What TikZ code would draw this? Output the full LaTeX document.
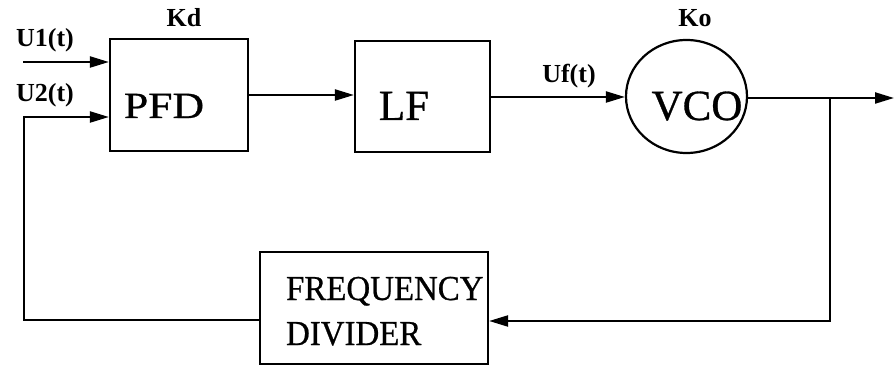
\documentclass[tikz,border=0pt]{standalone}
\usepackage{fontspec}
\usepackage{graphicx}
\setmainfont{Liberation Serif}
\newfontfamily\heavyserif{Liberation Serif}[FakeBold=0.7]
\usetikzlibrary{arrows.meta,shapes.geometric}
\begin{document}
\begin{tikzpicture}[x=1pt,y=-1pt,
  line width=2.2pt,
  blk/.style={draw,line width=2.2pt,inner sep=0pt},
  lbl/.style={inner sep=0pt,anchor=base,font=\fontsize{26}{30}\selectfont\bfseries},
  big/.style={inner sep=0pt,anchor=base,font=\fontsize{43}{48}\selectfont\heavyserif},
  fdtxt/.style={inner sep=0pt,anchor=base west,font=\fontsize{35}{40}\selectfont\heavyserif},
  arr/.style={-{Triangle[length=19pt,width=11pt]}}]
\useasboundingbox (0,0) rectangle (894,366);
% blocks
\node[blk,minimum width=138pt,minimum height=112pt] (pfd) at (179,95) {};
\node[blk,minimum width=135pt,minimum height=111pt] (lf) at (422.5,96.5) {};
\node[blk,ellipse,minimum width=121pt,minimum height=113pt] (vco) at (686.5,96.5) {};
\node[blk,minimum width=228pt,minimum height=112pt] (fd) at (374,308) {};
% texts
\node[big,font=\fontsize{37}{42}\selectfont\heavyserif] (pfdt) at (164,118) {\scalebox{1.18}[1]{PFD}};
\node[big] (lft) at (404,120) {LF};
\node[big] (vcot) at (697,120) {VCO};
\node[fdtxt] (fd1) at (285,300) {\scalebox{0.94}[1]{FREQUENCY}};
\node[fdtxt] (fd2) at (285,345) {\scalebox{0.94}[1]{DIVIDER}};
\node[lbl] (kd) at (184,27) {Kd};
\node[lbl] (ko) at (695,27) {Ko};
\node[lbl] (u1) at (45,47) {U1(t)};
\node[lbl] (u2) at (45,102) {U2(t)};
\node[lbl] (uf) at (569,83) {Uf(t)};
% coordinates
\coordinate (in1) at (23,62);
\coordinate (lc) at (24,320);
\coordinate (lt) at (24,117);
\coordinate (out) at (894,98);
\coordinate (jn) at (830,98);
\coordinate (jb) at (830,321);
% connectors
\draw[arr] (in1) -- (in1 -| pfd.west);
\draw[arr] (fd.west |- lc) -- (lc) -- (lt) -- (lt -| pfd.west);
\draw[arr] (pfd.east |- 0,95) -- (lf.west |- 0,95);
\draw[arr] (lf.east |- 0,97) -- (vco.west |- 0,97);
\draw[arr] (vco.east |- out) -- (out);
\draw[arr] (jn) -- (jb) -- (jb -| fd.east);
\end{tikzpicture}
\end{document}
